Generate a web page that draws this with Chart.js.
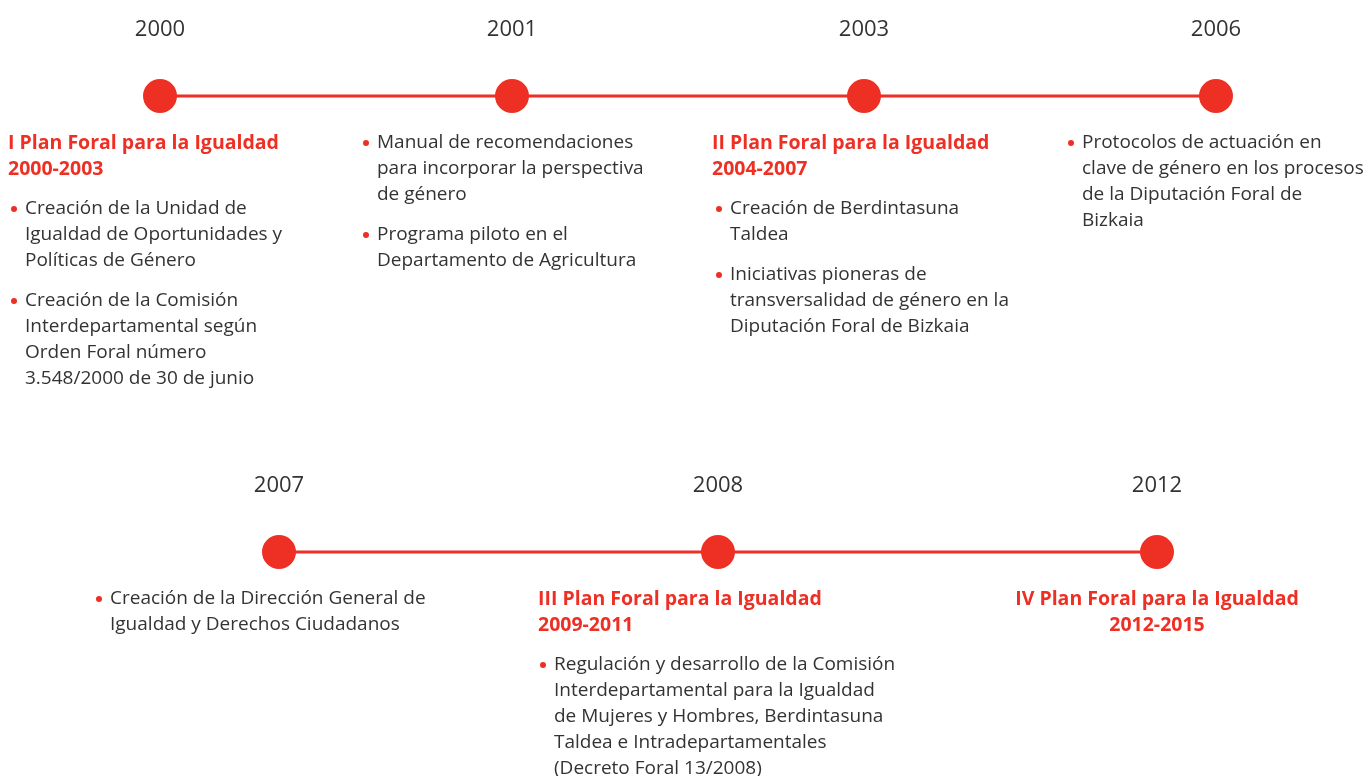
<!DOCTYPE html>
<html>
<head>
<meta charset="utf-8">
<script src="https://cdn.jsdelivr.net/npm/chart.js@4"></script>
<style>
    html, body { margin: 0; padding: 0; background: #ffffff; }
    #wrap { width: 1365px; height: 776px; position: relative; overflow: hidden; }
    .row { position: absolute; left: 0; width: 1365px; }
</style>
</head>
<body>
<div id="wrap">
    <div class="row" style="top:0; height:456px;"><canvas id="topChart"></canvas></div>
    <div class="row" style="top:456px; height:320px;"><canvas id="bottomChart"></canvas></div>
</div>
<script>
// Timeline data - first row
const topYears = ['2000', '2001', '2003', '2006'];
const topTitles = [
    ['I Plan Foral para la Igualdad', '2000-2003'],
    null,
    ['II Plan Foral para la Igualdad', '2004-2007'],
    null
];
const topItems = [
    [
        ['Creación de la Unidad de', 'Igualdad de Oportunidades y', 'Políticas de Género'],
        ['Creación de la Comisión', 'Interdepartamental según', 'Orden Foral número', '3.548/2000 de 30 de junio']
    ],
    [
        ['Manual de recomendaciones', 'para incorporar la perspectiva', 'de género'],
        ['Programa piloto en el', 'Departamento de Agricultura']
    ],
    [
        ['Creación de Berdintasuna', 'Taldea'],
        ['Iniciativas pioneras de', 'transversalidad de género en la', 'Diputación Foral de Bizkaia']
    ],
    [
        ['Protocolos de actuación en', 'clave de género en los procesos', 'de la Diputación Foral de', 'Bizkaia']
    ]
];

// Timeline data - second row
const bottomYears = ['2007', '2008', '2012'];
const bottomTitles = [
    null,
    ['III Plan Foral para la Igualdad', '2009-2011'],
    ['IV Plan Foral para la Igualdad', '2012-2015']
];
const bottomItems = [
    [
        ['Creación de la Dirección General de', 'Igualdad y Derechos Ciudadanos']
    ],
    [
        ['Regulación y desarrollo de la Comisión', 'Interdepartamental para la Igualdad', 'de Mujeres y Hombres, Berdintasuna', 'Taldea e Intradepartamentales', '(Decreto Foral 13/2008)']
    ],
    []
];

const RED = '#ee2f24';
const TEXT = '#333333';
const FONT = '"Open Sans", "Noto Sans", sans-serif';

// text offsets from each point (px)
const topLayout = [
    { align: 'left', title: -152, text: -135 },
    { align: 'left', title: -152, text: -135 },
    { align: 'left', title: -152, text: -134 },
    { align: 'left', title: -152, text: -134 }
];
const bottomLayout = [
    { align: 'left', title: -179, text: -169 },
    { align: 'left', title: -180, text: -164 },
    { align: 'center', title: 0, text: 0 }
];

// draws the titles and bullet lists under each point
const timelineText = {
    id: 'timelineText',
    afterDatasetsDraw(chart, args, opts) {
        const ctx = chart.ctx;
        const xs = chart.scales.x;
        const y0 = chart.scales.y.getPixelForValue(1);
        ctx.save();
        ctx.textBaseline = 'middle';
        opts.titles.forEach((title, i) => {
            const px = xs.getPixelForValue(i);
            const lay = opts.layout[i];
            let y = y0 + 47;
            if (title) {
                ctx.font = 'bold 19.5px ' + FONT;
                ctx.fillStyle = RED;
                ctx.textAlign = lay.align;
                const tx = lay.align === 'center' ? px : px + lay.title;
                title.forEach(line => { ctx.fillText(line, tx, y); y += 26; });
                y += 14;
            }
            opts.items[i].forEach(item => {
                ctx.fillStyle = RED;
                ctx.beginPath();
                ctx.arc(px + lay.text - 11, y, 3, 0, Math.PI * 2);
                ctx.fill();
                ctx.font = '19px ' + FONT;
                ctx.fillStyle = TEXT;
                ctx.textAlign = 'left';
                item.forEach(line => { ctx.fillText(line, px + lay.text, y); y += 26; });
                y += 14;
            });
        });
        ctx.restore();
    }
};

function makeTimeline(canvasId, years, titles, items, layout, padLeft, padRight) {
    const ctx = document.getElementById(canvasId).getContext('2d');
    return new Chart(ctx, {
        type: 'line',
        data: {
            labels: years,
            datasets: [{
                data: years.map(() => 1),
                borderColor: RED,
                borderWidth: 3,
                pointRadius: 17,
                pointHoverRadius: 17,
                pointBackgroundColor: RED,
                pointBorderWidth: 0,
                clip: false
            }]
        },
        options: {
            responsive: true,
            maintainAspectRatio: false,
            animation: false,
            events: [],
            layout: { padding: { left: padLeft, right: padRight, top: 15, bottom: 0 } },
            plugins: {
                legend: { display: false },
                tooltip: { enabled: false },
                timelineText: { titles: titles, items: items, layout: layout }
            },
            scales: {
                x: {
                    type: 'category',
                    position: 'top',
                    offset: false,
                    grid: { display: false, drawTicks: false },
                    border: { display: false },
                    ticks: {
                        color: TEXT,
                        font: { family: FONT, size: 22 },
                        padding: 53,
                        maxRotation: 0
                    },
                    afterFit(scale) { scale.height = 81; }
                },
                y: { display: false, min: 0, max: 1 }
            }
        },
        plugins: [timelineText]
    });
}

Promise.all([
    document.fonts.load('19px "Open Sans"'),
    document.fonts.load('bold 20px "Open Sans"'),
    document.fonts.load('22px "Open Sans"')
]).catch(() => {}).then(() => {
    makeTimeline('topChart', topYears, topTitles, topItems, topLayout, 160, 149);
    makeTimeline('bottomChart', bottomYears, bottomTitles, bottomItems, bottomLayout, 279, 208);
});
</script>
</body>
</html>
